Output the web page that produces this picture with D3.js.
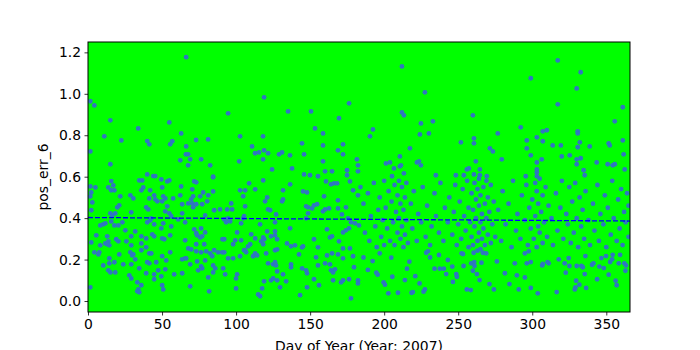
<!DOCTYPE html>
<html>
<head>
<meta charset="utf-8">
<script src="https://cdn.jsdelivr.net/npm/d3@7"></script>
<style>
  body { margin: 0; background: #fff; }
  svg text { font-family: "DejaVu Sans", sans-serif; fill: #000; }
</style>
</head>
<body>
<div id="chart"></div>
<script>
// [day of year, pos_err_6]
const obs = [
  [66.3,1.177],[1.6,0.964],[4.3,0.944],[15.1,0.872],[54.9,0.862],[33.9,0.833],[11.0,0.795],[22.5,0.775],[62.9,0.809],[40.0,0.772],
  [41.4,0.756],[56.9,0.771],[55.5,0.756],[73.0,0.777],[81.1,0.780],[66.3,0.746],[1.6,0.722],[66.1,0.708],[67.6,0.708],[69.0,0.684],
  [62.3,0.679],[76.4,0.684],[15.1,0.660],[67.6,0.655],[82.5,0.655],[40.0,0.611],[44.1,0.603],[45.4,0.603],[84.5,0.600],
  [118.9,0.983],[94.6,0.906],[176.3,0.954],[135.1,0.915],[150.6,0.915],[169.5,0.882],[153.3,0.833],[158.7,0.809],[102.7,0.795],[118.2,0.795],
  [144.5,0.761],[158.7,0.751],[172.2,0.756],[168.8,0.727],[110.8,0.746],[112.8,0.713],[115.5,0.717],[118.9,0.727],[121.6,0.713],[129.0,0.708],
  [131.0,0.717],[136.4,0.703],[145.9,0.708],[172.2,0.708],[102.1,0.674],[118.2,0.684],[158.7,0.674],[181.6,0.684],[182.3,0.655],[124.3,0.635],
  [137.8,0.640],[160.1,0.626],[164.8,0.626],[174.9,0.631],[182.3,0.626],[145.9,0.611],[149.9,0.607],[155.3,0.602],[174.9,0.607],
  [212.0,1.132],[227.5,1.007],[212.0,0.910],[213.3,0.896],[259.9,0.896],[224.8,0.857],[232.9,0.867],[192.4,0.828],[190.4,0.795],[224.1,0.804],
  [230.2,0.809],[260.6,0.785],[260.6,0.761],[251.8,0.766],[217.4,0.737],[271.4,0.737],[273.4,0.722],[210.6,0.698],[201.2,0.664],[203.9,0.669],
  [222.1,0.669],[223.5,0.674],[224.8,0.655],[210.6,0.650],[211.3,0.655],[206.6,0.640],[261.9,0.674],[255.8,0.635],[257.2,0.640],[264.6,0.635],
  [213.3,0.616],[205.3,0.602],[234.9,0.607],[248.4,0.607],[253.8,0.607],[260.6,0.611],[264.6,0.607],[269.3,0.602],
  [317.2,1.161],[332.7,1.104],[299.0,1.075],[330.0,1.026],[317.2,0.949],[361.1,0.935],[355.7,0.867],[276.7,0.809],[292.2,0.838],[307.1,0.819],
  [309.8,0.824],[330.7,0.819],[330.7,0.809],[296.3,0.775],[303.1,0.790],[307.1,0.771],[332.1,0.766],[361.1,0.775],[313.8,0.751],[319.3,0.751],
  [330.7,0.742],[338.8,0.746],[351.6,0.761],[352.3,0.751],[296.3,0.737],[361.7,0.708],[299.0,0.703],[319.9,0.698],[325.3,0.703],[330.0,0.684],
  [332.7,0.689],[279.4,0.684],[306.4,0.684],[303.1,0.669],[330.0,0.660],[343.5,0.669],[350.9,0.660],[354.3,0.655],[355.7,0.660],[303.1,0.635],
  [303.1,0.621],[334.7,0.631],[362.4,0.635],[295.6,0.602],[303.1,0.602],[335.4,0.607],
  [15.7,0.579],[34.6,0.582],[36.6,0.582],[49.5,0.587],[53.5,0.577],[54.9,0.582],[71.7,0.577],[73.1,0.573],[84.5,0.597],[1.6,0.553],
  [5.0,0.548],[13.7,0.548],[17.1,0.558],[17.8,0.534],[15.7,0.534],[37.3,0.548],[36.0,0.534],[42.0,0.534],[50.1,0.548],[62.9,0.553],
  [70.4,0.539],[77.8,0.524],[84.5,0.529],[2.2,0.524],[1.6,0.505],[21.8,0.505],[28.6,0.510],[30.6,0.495],[44.7,0.510],[45.4,0.491],
  [50.8,0.505],[52.2,0.495],[50.1,0.481],[57.5,0.495],[62.3,0.510],[71.0,0.505],[69.7,0.491],[70.4,0.471],[75.8,0.505],[81.2,0.510],
  [2.9,0.476],[21.1,0.462],[19.8,0.452],[41.4,0.495],[46.8,0.481],[39.3,0.452],[40.7,0.442],[53.5,0.457],[52.2,0.433],[63.6,0.467],
  [63.6,0.423],[67.7,0.471],[71.0,0.452],[73.1,0.467],[77.1,0.467],[80.5,0.481],[2.2,0.438],[15.1,0.423],[16.4,0.413],[18.4,0.423],
  [29.2,0.428],[54.9,0.423],[56.2,0.409],[85.2,0.438],[89.2,0.442],[79.1,0.413],
  [10.3,0.370],[8.3,0.365],[11.7,0.375],[15.7,0.384],[17.8,0.365],[20.5,0.365],[23.2,0.380],[40.0,0.380],[42.0,0.389],[44.7,0.370],
  [42.7,0.399],[50.8,0.375],[49.5,0.351],[56.2,0.360],[60.9,0.394],[65.6,0.380],[71.7,0.346],[73.1,0.327],[76.4,0.351],[79.1,0.331],
  [25.2,0.341],[31.9,0.336],[29.2,0.312],[5.6,0.317],[13.0,0.312],[19.1,0.298],[20.5,0.288],[25.9,0.288],[36.0,0.312],[39.3,0.302],
  [43.4,0.322],[44.7,0.312],[50.1,0.302],[51.5,0.298],[55.5,0.317],[65.6,0.293],[73.7,0.317],[75.8,0.307],[77.1,0.312],[90.8,0.298],
  [2.2,0.283],[11.7,0.278],[8.3,0.269],[13.7,0.288],[14.4,0.269],[13.0,0.274],[29.2,0.269],[36.0,0.278],[39.3,0.259],[67.7,0.254],
  [69.7,0.249],[73.1,0.274],[78.5,0.274],[4.3,0.235],[7.6,0.235],[7.0,0.225],[21.1,0.225],[28.6,0.235],[30.6,0.225],[29.9,0.220],
  [36.0,0.245],[41.4,0.230],[42.7,0.230],[50.1,0.216],[55.5,0.235],[65.6,0.206],[73.1,0.240],[76.4,0.235],[79.8,0.240],[82.5,0.230],
  [83.9,0.216],[85.2,0.245],[87.9,0.235],[90.6,0.235],[14.4,0.206],[14.4,0.182],[17.8,0.187],[10.3,0.172],[23.8,0.177],[29.2,0.177],
  [31.9,0.201],[41.4,0.182],[40.0,0.187],[46.1,0.187],[52.8,0.196],[63.6,0.201],[66.3,0.206],[69.0,0.177],[73.7,0.191],[76.4,0.167],
  [74.4,0.148],[77.1,0.158],[79.1,0.196],[84.5,0.172],[85.9,0.158],[84.5,0.138],[91.3,0.158],[13.7,0.148],[15.1,0.138],[18.4,0.138],
  [27.9,0.124],[29.2,0.109],[34.6,0.158],[39.3,0.134],[44.7,0.129],[44.7,0.105],[47.4,0.148],[49.5,0.119],[52.2,0.153],[58.2,0.129],
  [63.6,0.134],[81.2,0.114],[1.6,0.066],[33.3,0.090],[36.0,0.076],[34.0,0.056],[34.6,0.042],[33.3,0.047],[50.1,0.076],[50.8,0.056],
  [69.0,0.071],[81.8,0.047],
  [108.8,0.568],[106.1,0.534],[102.7,0.534],[104.8,0.505],[112.9,0.539],[118.3,0.582],[131.7,0.534],[136.5,0.563],[145.2,0.529],[147.9,0.524],
  [160.7,0.577],[164.1,0.563],[166.1,0.568],[168.2,0.568],[176.9,0.577],[179.0,0.534],[182.3,0.510],[119.6,0.481],[121.0,0.500],[131.7,0.491],
  [131.1,0.481],[159.4,0.505],[168.8,0.486],[94.0,0.442],[97.3,0.442],[96.7,0.471],[106.1,0.457],[121.6,0.442],[123.0,0.438],[147.3,0.457],
  [148.6,0.452],[151.3,0.447],[152.6,0.462],[154.7,0.467],[158.7,0.433],[160.1,0.442],[162.8,0.447],[168.8,0.447],[174.2,0.452],[127.0,0.418],
  [148.6,0.423],[171.5,0.418],[92.0,0.394],[94.6,0.399],[93.3,0.380],[96.0,0.384],[105.4,0.409],[104.8,0.399],[103.4,0.375],[116.2,0.370],
  [126.3,0.380],[147.3,0.399],[175.6,0.399],[177.6,0.380],[180.3,0.375],[176.3,0.351],[183.0,0.365],[136.5,0.351],[161.4,0.346],[174.2,0.341],
  [172.2,0.331],[100.7,0.331],[110.2,0.322],[112.9,0.302],[121.0,0.336],[118.3,0.307],[123.6,0.312],[126.3,0.317],[126.3,0.336],[127.7,0.298],
  [164.8,0.312],[163.4,0.307],[169.5,0.288],[92.0,0.298],[99.4,0.293],[103.4,0.293],[98.0,0.274],[116.9,0.288],[118.3,0.274],[119.0,0.298],
  [109.5,0.274],[108.1,0.264],[106.1,0.245],[106.8,0.235],[105.4,0.245],[134.4,0.278],[137.1,0.264],[139.8,0.269],[145.2,0.264],[144.6,0.259],
  [152.6,0.298],[155.3,0.259],[172.2,0.254],[176.9,0.254],[92.0,0.235],[112.9,0.230],[111.5,0.216],[114.2,0.220],[120.3,0.230],[126.3,0.245],
  [127.7,0.249],[142.5,0.225],[154.0,0.211],[161.4,0.220],[164.8,0.230],[168.8,0.225],[172.2,0.206],[179.0,0.216],[94.6,0.206],[98.0,0.206],
  [102.7,0.216],[121.6,0.182],[125.0,0.177],[126.3,0.187],[127.0,0.172],[137.1,0.177],[137.1,0.163],[155.3,0.172],[160.1,0.182],[163.4,0.177],
  [144.6,0.158],[147.3,0.148],[147.9,0.134],[164.1,0.148],[165.5,0.138],[166.8,0.153],[179.6,0.163],[127.7,0.143],[131.7,0.129],[92.6,0.129],
  [100.7,0.129],[100.0,0.109],[123.6,0.100],[125.0,0.109],[127.7,0.100],[133.8,0.095],[118.9,0.095],[152.6,0.105],[156.0,0.076],[165.5,0.100],
  [170.9,0.090],[172.2,0.100],[176.3,0.105],[182.3,0.100],[182.3,0.085],[117.6,0.061],[129.7,0.066],[100.0,0.061],[147.9,0.066],[114.9,0.032],
  [116.2,0.023],[143.2,0.028],[177.6,0.013],
  [192.2,0.193],[194.7,0.137],[195.6,0.127],[199.6,0.090],[200.5,0.079],[202.8,0.037],[204.8,0.209],[205.5,0.117],[209.3,0.040],[214.0,0.101],
  [215.4,0.156],[218.5,0.040],[219.4,0.043],[223.9,0.085],[226.6,0.045],[227.5,0.056],[228.4,0.233],[229.5,0.240],[234.0,0.156],[237.0,0.222],
  [237.6,0.156],[240.3,0.156],[241.9,0.130],[243.0,0.198],[186.0,0.210],[189.0,0.150],[197.0,0.230],[217.0,0.190],[221.0,0.120],[231.0,0.210],
  [246.0,0.166],[246.4,0.092],[248.7,0.130],[249.1,0.117],[252.3,0.230],[253.2,0.227],[253.6,0.169],[255.8,0.056],[258.5,0.053],[258.8,0.182],
  [259.9,0.146],[260.4,0.233],[260.8,0.188],[261.0,0.169],[262.6,0.130],[263.0,0.243],[264.4,0.101],[265.7,0.185],[266.6,0.233],[268.9,0.230],
  [271.1,0.082],[274.1,0.056],[276.1,0.191],[281.5,0.134],[284.6,0.082],[288.2,0.182],[289.6,0.124],[290.9,0.056],[295.0,0.114],[295.0,0.230],
  [296.3,0.182],[297.6,0.240],[299.0,0.188],[299.0,0.063],[303.7,0.037],[306.7,0.172],[307.1,0.179],[310.3,0.188],[311.1,0.182],[316.5,0.043],
  [317.9,0.201],[321.9,0.182],[322.6,0.137],[324.6,0.207],[325.1,0.169],[328.7,0.056],[329.2,0.066],[329.6,0.098],[330.0,0.169],[331.8,0.079],
  [333.2,0.169],[334.1,0.163],[335.4,0.130],[335.9,0.217],[336.4,0.063],[340.4,0.175],[341.3,0.182],[343.8,0.105],[345.3,0.166],[346.7,0.207],
  [348.3,0.159],[349.8,0.217],[351.6,0.127],[352.6,0.188],[353.9,0.201],[354.3,0.223],[356.3,0.098],[357.0,0.076],[358.4,0.182],[359.3,0.223],
  [362.2,0.182],[362.9,0.146],[363.3,0.172],
  [184,0.55],[186,0.47],[187,0.33],[189,0.52],[190,0.29],[191,0.41],[193,0.57],[194,0.36],[195,0.26],[196,0.44],
  [197,0.50],[198,0.31],[199,0.39],[200,0.58],[200,0.27],[201,0.45],[202,0.35],[203,0.53],[204,0.29],[205,0.48],
  [206,0.38],[207,0.56],[207,0.27],[208,0.43],[209,0.33],[209,0.51],[210,0.58],[210,0.40],[211,0.30],[211,0.47],
  [212,0.55],[212,0.36],[213,0.26],[213,0.44],[214,0.50],[214,0.32],[215,0.57],[215,0.39],[216,0.28],[218,0.47],
  [219,0.35],[220,0.53],[222,0.29],[223,0.42],[225,0.38],[226,0.55],[228,0.31],[229,0.46],[231,0.27],[232,0.36],
  [234,0.52],[235,0.41],[237,0.33],[238,0.57],[240,0.29],[241,0.45],[243,0.38],[244,0.50],[246,0.32],[247,0.43],
  [248,0.56],[249,0.27],[250,0.37],[251,0.48],[252,0.30],[253,0.54],[254,0.41],[255,0.34],[256,0.58],[257,0.26],
  [257,0.45],[258,0.38],[259,0.52],[259,0.31],[260,0.44],[260,0.27],[261,0.57],[261,0.36],[262,0.49],[262,0.40],
  [263,0.29],[263,0.54],[264,0.33],[264,0.46],[264,0.59],[265,0.38],[265,0.25],[265,0.51],[266,0.42],[266,0.30],
  [267,0.55],[267,0.35],[268,0.47],[268,0.27],[269,0.40],[269,0.58],[270,0.32],[270,0.50],[271,0.43],[272,0.28],
  [272,0.56],[273,0.37],[274,0.48],[275,0.31],[277,0.44],[279,0.29],[280,0.53],[282,0.37],[284,0.47],[286,0.26],
  [287,0.58],[289,0.34],[290,0.42],[292,0.30],[293,0.51],[295,0.39],[296,0.56],[297,0.27],[298,0.45],[299,0.35],
  [300,0.49],[301,0.30],[302,0.57],[302,0.41],[303,0.26],[303,0.53],[304,0.36],[304,0.47],[305,0.33],[305,0.59],
  [306,0.43],[307,0.28],[307,0.51],[308,0.38],[309,0.55],[310,0.31],[311,0.46],[313,0.40],[314,0.27],[316,0.52],
  [317,0.34],[319,0.45],[320,0.58],[321,0.30],[323,0.42],[324,0.37],[325,0.55],[326,0.28],[327,0.48],[328,0.33],
  [329,0.57],[330,0.40],[331,0.26],[332,0.50],[333,0.36],[334,0.44],[335,0.30],[336,0.53],[338,0.39],[339,0.27],
  [341,0.47],[342,0.34],[344,0.56],[345,0.29],[346,0.42],[348,0.37],[349,0.51],[350,0.26],[351,0.45],[353,0.32],
  [354,0.58],[355,0.40],[357,0.29],[358,0.49],[359,0.35],[360,0.54],[361,0.27],[362,0.43],[363,0.38],[364,0.52],
  [365,0.31],[365,0.46]
];

// fitted trend, end points
const trendDays = [0, 366];
const trendVals = [0.403, 0.386];

const xTicks = [0, 50, 100, 150, 200, 250, 300, 350];
const yTicks = [0.0, 0.2, 0.4, 0.6, 0.8, 1.0, 1.2];

const xLabel = "Day of Year (Year: 2007)";
const yLabel = "pos_err_6";

let width = 700, height = 350;
let plot = { left: 88, right: 630, top: 42, bottom: 312 };

let svg = d3.select("#chart").append("svg")
    .attr("width", width)
    .attr("height", height);

let x = d3.scaleLinear().domain([0, 366]).range([plot.left, plot.right]);
let y = d3.scaleLinear().domain([-0.053, 1.25]).range([plot.bottom, plot.top]);

svg.append("rect")
    .attr("x", plot.left).attr("y", plot.top)
    .attr("width", plot.right - plot.left)
    .attr("height", plot.bottom - plot.top)
    .attr("fill", "#00ff00");

let pts = svg.append("g").attr("clip-path", "url(#clip)");
svg.append("clipPath").attr("id", "clip")
  .append("rect")
    .attr("x", plot.left).attr("y", plot.top)
    .attr("width", plot.right - plot.left)
    .attr("height", plot.bottom - plot.top);

pts.selectAll("circle")
    .data(obs)
    .enter().append("circle")
    .attr("cx", d => x(d[0]))
    .attr("cy", d => y(d[1]))
    .attr("r", 2.4)
    .attr("fill", "#2f77c0");

let line = d3.line().x(d => x(d[0])).y(d => y(d[1]));
pts.append("path")
    .datum(trendDays.map((d, i) => [d, trendVals[i]]))
    .attr("d", line)
    .attr("fill", "none")
    .attr("stroke", "#0000ff")
    .attr("stroke-width", 1.3)
    .attr("stroke-dasharray", "5,2");

// axes
let xAxis = svg.append("g")
    .attr("transform", `translate(0,${plot.bottom})`)
    .call(d3.axisBottom(x).tickValues(xTicks).tickFormat(d3.format("d")).tickSizeOuter(0).tickSize(3.5).tickPadding(3.5));
let yAxis = svg.append("g")
    .attr("transform", `translate(${plot.left},0)`)
    .call(d3.axisLeft(y).tickValues(yTicks).tickFormat(d3.format(".1f")).tickSizeOuter(0).tickSize(3.5).tickPadding(3.5));

[xAxis, yAxis].forEach(a => {
    a.select(".domain").remove();
    a.selectAll("line").attr("stroke", "#000").attr("stroke-width", 0.8);
    a.selectAll("text").style("font-size", "13.9px").attr("fill", "#000");
});

// frame
svg.append("rect")
    .attr("x", plot.left).attr("y", plot.top)
    .attr("width", plot.right - plot.left)
    .attr("height", plot.bottom - plot.top)
    .attr("fill", "none")
    .attr("stroke", "#000")
    .attr("stroke-width", 1);

svg.append("text")
    .attr("x", (plot.left + plot.right) / 2)
    .attr("y", 351)
    .attr("text-anchor", "middle")
    .style("font-size", "13.9px")
    .text(xLabel);

svg.append("text")
    .attr("transform", `translate(47.5,${(plot.top + plot.bottom) / 2}) rotate(-90)`)
    .attr("text-anchor", "middle")
    .style("font-size", "13.9px")
    .text(yLabel);
</script>
</body>
</html>
